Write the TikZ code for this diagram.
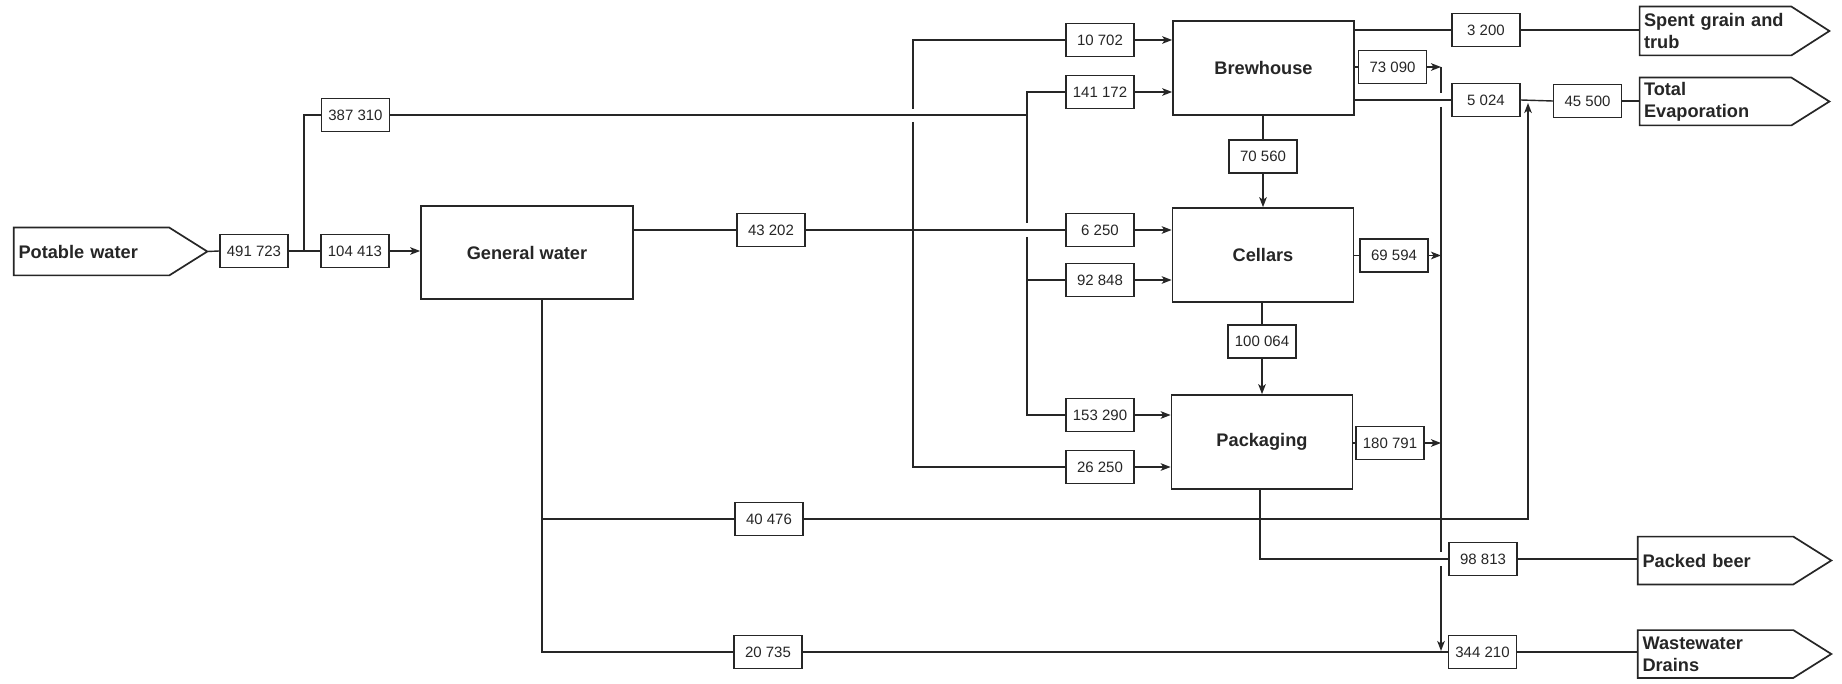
\documentclass[tikz,border=0pt]{standalone}
\usepackage{fontspec}
\setmainfont{Liberation Sans}
\usetikzlibrary{arrows.meta}
\definecolor{ink}{gray}{0.15}
\newcommand\drawoutlet[1]{\draw[ln, line width=0.85pt] (#1.north west) -- ([xshift=-19pt]#1.north east) -- (#1.east) -- ([xshift=-19pt]#1.south east) -- (#1.south west) -- cycle;}
\begin{document}
\begin{tikzpicture}[x=0.5pt,y=-0.5pt,
  ln/.style={line width=0.7pt, draw=ink},
  arr/.style={ln, -{Stealth[length=5pt,width=3.8pt,inset=1.3pt]}},
  vbox/.style={draw=ink, line width=0.75pt, minimum width=34pt, minimum height=16.5pt, inner sep=0pt, text=ink, font=\fontsize{7.5}{9}\selectfont},
  pbox/.style={draw=ink, line width=0.85pt, minimum width=90.5pt, minimum height=47pt, inner sep=0pt, text=ink, font=\bfseries\fontsize{9.1}{11}\selectfont},
  outlet/.style={minimum height=23.5pt, inner xsep=2.2pt, inner ysep=0pt, text width=92pt, align=left, text=ink, font=\bfseries\fontsize{9.1}{11}\selectfont},
]
\useasboundingbox[fill=white] (0,0) rectangle (1842,684);

% --- nodes ---
\node[outlet] (pw) at (110.5,251.5) {Potable water};
\node[vbox] (v491) at (254,251) {491 723};
\coordinate (j1) at (304,251);
\node[vbox] (v104) at (355,251) {104 413};
\node[vbox] (v387) at (355.5,115) {387 310};
\node[pbox, minimum width=106pt, minimum height=46.5pt] (gw) at (527,252.5) {General water};
\node[vbox] (v432) at (771,230) {43 202};

\node[vbox] (v10702) at (1100,40) {10 702};
\node[vbox] (v141) at (1100,92) {141 172};
\node[vbox] (v6250) at (1100,230) {6 250};
\node[vbox] (v928) at (1100,280) {92 848};
\node[vbox] (v153) at (1100,415) {153 290};
\node[vbox] (v262) at (1100,467) {26 250};

\node[pbox] (brew) at (1263.5,68) {Brewhouse};
\node[pbox] (cell) at (1263,255) {Cellars};
\node[pbox] (pack) at (1262,442) {Packaging};
\node[vbox] (v705) at (1263,156.5) {70 560};
\node[vbox] (v100) at (1262,341.5) {100 064};

\node[vbox] (v3200) at (1486,30) {3 200};
\node[vbox] (v730) at (1392.5,67) {73 090};
\node[vbox] (v5024) at (1486,100) {5 024};
\node[vbox] (v455) at (1587.5,101) {45 500};
\node[vbox] (v695) at (1394,255.5) {69 594};
\node[vbox] (v180) at (1390,443) {180 791};
\node[vbox] (v988) at (1483,559) {98 813};
\node[vbox] (v344) at (1482.5,652) {344 210};
\node[vbox] (v404) at (769,519) {40 476};
\node[vbox] (v207) at (768,652) {20 735};

\node[outlet, minimum height=24pt, text width=90.5pt, inner xsep=2pt] (sg) at (1734.5,31) {Spent grain and\\trub};
\node[outlet, text width=90.5pt, inner xsep=2pt] (ev) at (1734.5,101.5) {Total\\Evaporation};
\node[outlet] (pb) at (1734.5,560.5) {Packed beer};
\node[outlet] (ww) at (1734.5,654) {Wastewater\\Drains};

\drawoutlet{pw}
\drawoutlet{sg}
\drawoutlet{ev}
\drawoutlet{pb}
\drawoutlet{ww}

% --- coordinates for junctions ---
\coordinate (a1) at (913,40);
\coordinate (a1g) at (913,109);
\coordinate (a2g) at (913,122);
\coordinate (a3) at (913,467);
\coordinate (b1) at (1027,92);
\coordinate (b2) at (1027,115);
\coordinate (b2g) at (1027,223);
\coordinate (b3g) at (1027,237);
\coordinate (b4) at (1027,280);
\coordinate (b5) at (1027,415);
\coordinate (r0) at (1441,67);
\coordinate (r1g) at (1441,93);
\coordinate (r2g) at (1441,107);
\coordinate (r3g) at (1441,552);
\coordinate (r4g) at (1441,566);
\coordinate (r5) at (1441,651);
\coordinate (j2) at (1528,100);
\coordinate (g1) at (542,519);
\coordinate (g2) at (542,652);
\coordinate (p1) at (1260,559);

% --- left part ---
\draw[ln] (pw.east) -- (v491.west);
\draw[ln] (v491.east) -- (j1) -- (v104.west);
\draw[ln] (j1) |- (v387.west);
\draw[arr] (v104.east) -- (v104.east -| gw.west);
\draw[ln] (v387.east) -- (b2);
\draw[ln] (gw.east |- v432) -- (v432.west);
\draw[ln] (v432.east) -- (v6250.west);

% left vertical (fed by 43 202)
\draw[ln] (v10702.west) -- (a1) -- (a1g);
\draw[ln] (a2g) -- (a3) -- (v262.west);
% second vertical (fed by 387 310)
\draw[ln] (v141.west) -- (b1) -- (b2g);
\draw[ln] (b3g) -- (b5) -- (v153.west);
\draw[ln] (b4) -- (v928.west);

% inputs to process boxes
\draw[arr] (v10702.east) -- (v10702.east -| brew.west);
\draw[arr] (v141.east) -- (v141.east -| brew.west);
\draw[arr] (v6250.east) -- (v6250.east -| cell.west);
\draw[arr] (v928.east) -- (v928.east -| cell.west);
\draw[arr] (v153.east) -- (v153.east -| pack.west);
\draw[arr] (v262.east) -- (v262.east -| pack.west);

% between process boxes
\draw[ln] (brew.south -| v705) -- (v705.north);
\draw[arr] (v705.south) -- (v705.south |- cell.north);
\draw[ln] (cell.south -| v100) -- (v100.north);
\draw[arr] (v100.south) -- (v100.south |- pack.north);

% right part
\draw[ln] (brew.east |- v3200) -- (v3200.west);
\draw[ln] (v3200.east) -- (v3200.east -| sg.west);
\draw[ln] (brew.east |- v730) -- (v730.west);
\draw[arr] (v730.east) -- (r0);
\draw[ln] (brew.east |- v5024) -- (v5024.west);
\draw[ln] (v5024.east) -- (v455.west);
\draw[ln] (v455.east) -- (v455.east -| ev.west);
\draw[ln] (cell.east |- v695) -- (v695.west);
\draw[arr] (v695.east) -- (v695.east -| r0);
\draw[ln] (pack.east |- v180) -- (v180.west);
\draw[arr] (v180.east) -- (v180.east -| r0);
\draw[ln] (r0) -- (r1g);
\draw[ln] (r2g) -- (r3g);
\draw[arr] (r4g) -- (r5);

% general water bottom
\draw[ln] (gw.south -| g1) -- (g2) -- (v207.west);
\draw[ln] (g1) -- (v404.west);
\draw[arr] (v404.east) -- (v404.east -| j2) -- ([yshift=-1.5pt]j2);
\draw[ln] (v207.east) -- (v344.west);
\draw[ln] (v344.east) -- (v344.east -| ww.west);

% packaging bottom
\draw[ln] (pack.south -| p1) -- (p1) -- (v988.west);
\draw[ln] (v988.east) -- (v988.east -| pb.west);
\end{tikzpicture}
\end{document}
